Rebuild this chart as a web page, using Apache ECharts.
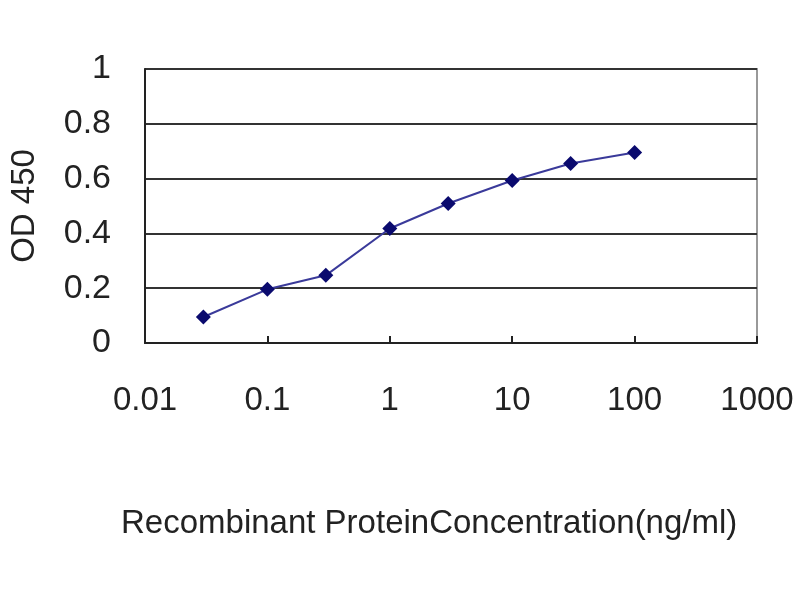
<!DOCTYPE html>
<html>
<head>
<meta charset="utf-8">
<script src="https://cdn.jsdelivr.net/npm/echarts@6/dist/echarts.min.js"></script>
<style>html,body{margin:0;padding:0;background:#fff}#c{width:800px;height:600px}</style>
</head>
<body>
<div id="c"></div>
<script>
const concentrations = [0.03, 0.1, 0.3, 1, 3, 10, 30, 100];
const od450 = [0.095, 0.196, 0.247, 0.418, 0.509, 0.593, 0.655, 0.695];
const xAxisTitle = 'Recombinant ProteinConcentration(ng/ml)';
const yAxisTitle = 'OD 450';

const chart = echarts.init(document.getElementById('c'));
chart.setOption({
  backgroundColor: '#fff',
  animation: false,
  title: {
    text: xAxisTitle,
    left: 116,
    top: 502,
    textStyle: { fontFamily: 'Liberation Sans', fontSize: 33, fontWeight: 'normal', color: '#222' }
  },
  grid: {
    left: 145, right: 43, top: 69, bottom: 257,
    show: true, borderColor: '#999', borderWidth: 2, backgroundColor: '#fff'
  },
  xAxis: {
    type: 'log', logBase: 10, min: 0.01, max: 1000,
    axisLine: { lineStyle: { color: '#222', width: 2 } },
    axisTick: { show: true, inside: true, length: 7, lineStyle: { color: '#222', width: 2 } },
    minorTick: { show: false },
    splitLine: { show: false },
    axisLabel: {
      fontFamily: 'Liberation Sans', fontSize: 33, color: '#222', margin: 41,
      formatter: v => String(v)
    }
  },
  yAxis: {
    type: 'value', min: 0, max: 1, interval: 0.2,
    name: yAxisTitle, nameLocation: 'middle', nameGap: 104, nameRotate: 90,
    nameTextStyle: { fontFamily: 'Liberation Sans', fontSize: 33, color: '#222' },
    axisLine: { show: true, lineStyle: { color: '#222', width: 2 } },
    axisTick: { show: false },
    splitLine: { show: true, lineStyle: { color: '#333', width: 2 } },
    axisLabel: {
      fontFamily: 'Liberation Sans', fontSize: 34, color: '#222', margin: 34,
      formatter: v => String(Math.round(v * 10) / 10)
    }
  },
  series: [{
    type: 'line',
    data: concentrations.map((c, i) => [c, od450[i]]),
    symbol: 'diamond', symbolSize: 15,
    itemStyle: { color: '#0a0a6e' },
    lineStyle: { color: '#3a3a9a', width: 2 }
  }]
});
</script>
</body>
</html>
